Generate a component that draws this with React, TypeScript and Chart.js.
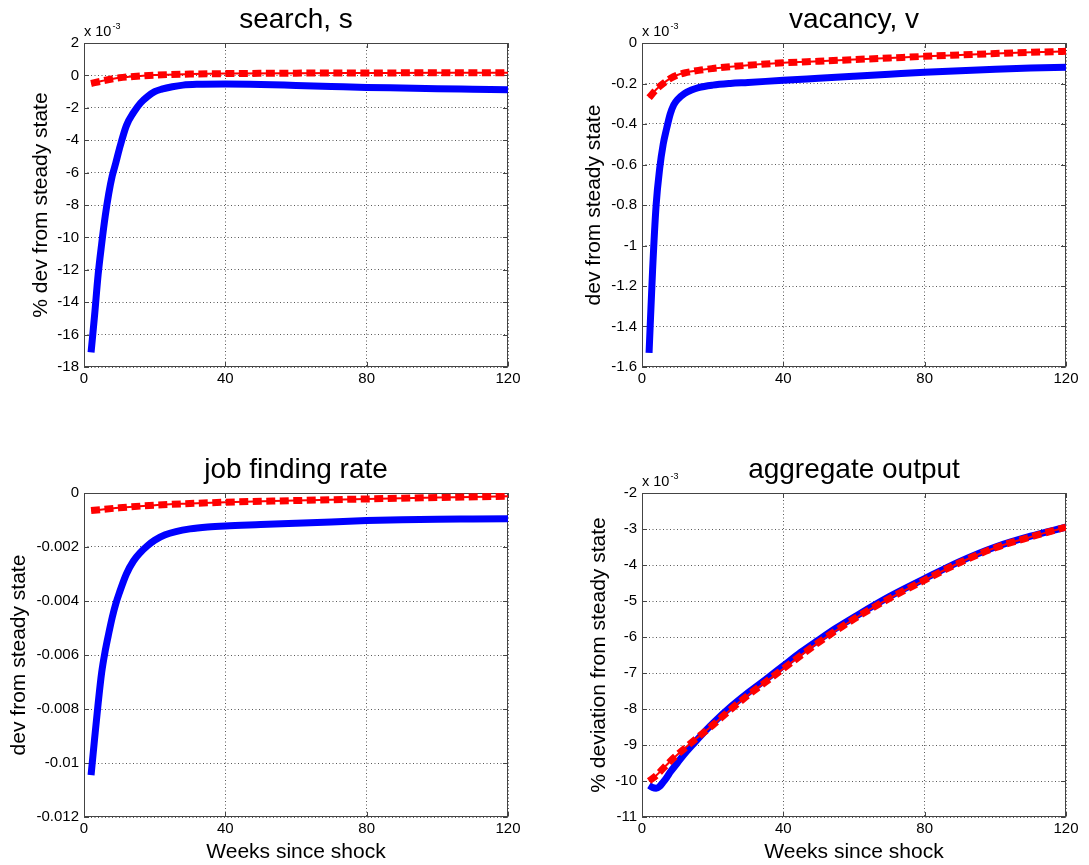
import React, { useEffect, useRef } from 'react';
import { Chart, registerables } from 'chart.js';

Chart.register(...registerables);

const FONT = '"Liberation Sans", Arial, Helvetica, sans-serif';

// x axis (weeks since shock)
const xTicks = [0, 40, 80, 120];

// search, s  (values in units of 10^-3)
const searchBlueWeeks = [2, 3, 4, 5, 6, 7, 8, 9, 10, 12, 14, 16, 18, 20, 22, 25, 28, 32, 40, 50, 60, 70, 80, 90, 100, 110, 120];
const searchBlue = [-17.1, -14.8, -12.3, -10.4, -8.7, -7.3, -6.2, -5.4, -4.55, -3.1, -2.3, -1.7, -1.3, -1.0, -0.85, -0.7, -0.6, -0.55, -0.53, -0.56, -0.62, -0.68, -0.74, -0.78, -0.82, -0.85, -0.88];
const searchRedWeeks = [2, 5, 10, 15, 20, 30, 40, 60, 80, 100, 120];
const searchRed = [-0.5, -0.35, -0.15, -0.05, 0.02, 0.08, 0.11, 0.14, 0.15, 0.16, 0.16];
const searchTicks = [-18, -16, -14, -12, -10, -8, -6, -4, -2, 0, 2];
const searchTickLabels = ['-18', '-16', '-14', '-12', '-10', '-8', '-6', '-4', '-2', '0', '2'];

// vacancy, v  (values in units of 10^-3)
const vacancyBlueWeeks = [2, 3, 4, 5, 6, 7, 8, 9, 10, 12, 14, 16, 20, 25, 30, 40, 50, 60, 70, 80, 90, 100, 110, 120];
const vacancyBlue = [-1.53, -1.12, -0.8, -0.62, -0.5, -0.42, -0.35, -0.305, -0.28, -0.25, -0.232, -0.22, -0.208, -0.2, -0.195, -0.184, -0.174, -0.164, -0.154, -0.144, -0.137, -0.13, -0.124, -0.12];
const vacancyRedWeeks = [2, 4, 6, 8, 10, 12, 16, 20, 25, 30, 40, 50, 60, 70, 80, 90, 100, 110, 120];
const vacancyRed = [-0.27, -0.23, -0.2, -0.175, -0.158, -0.148, -0.135, -0.126, -0.117, -0.11, -0.098, -0.09, -0.082, -0.074, -0.066, -0.059, -0.052, -0.046, -0.041];
const vacancyTicks = [-1.6, -1.4, -1.2, -1, -0.8, -0.6, -0.4, -0.2, 0];
const vacancyTickLabels = ['-1.6', '-1.4', '-1.2', '-1', '-0.8', '-0.6', '-0.4', '-0.2', '0'];

// job finding rate
const jobBlueWeeks = [2, 3, 4, 5, 6, 7, 8, 9, 10, 12, 14, 16, 18, 20, 23, 26, 30, 35, 40, 50, 60, 70, 80, 90, 100, 110, 120];
const jobBlue = [-0.01045, -0.0091, -0.0078, -0.00665, -0.00585, -0.0052, -0.0046, -0.0041, -0.0037, -0.003, -0.00252, -0.0022, -0.00195, -0.00175, -0.00155, -0.00143, -0.00133, -0.00126, -0.00122, -0.00117, -0.00112, -0.00107, -0.00102, -0.00099, -0.00097, -0.00096, -0.00095];
const jobRedWeeks = [2, 10, 20, 30, 40, 60, 80, 100, 120];
const jobRed = [-0.00065, -0.00055, -0.00045, -0.00039, -0.00034, -0.00028, -0.00022, -0.00017, -0.00012];
const jobTicks = [-0.012, -0.01, -0.008, -0.006, -0.004, -0.002, 0];
const jobTickLabels = ['-0.012', '-0.01', '-0.008', '-0.006', '-0.004', '-0.002', '0'];

// aggregate output  (values in units of 10^-3)
const outputBlueWeeks = [2, 3, 4, 5, 6, 7, 8, 10, 12, 15, 18, 20, 25, 30, 35, 40, 45, 50, 55, 60, 70, 80, 90, 100, 110, 120];
const outputBlue = [-10.12, -10.18, -10.2, -10.15, -10.03, -9.9, -9.75, -9.5, -9.25, -8.92, -8.6, -8.4, -7.95, -7.55, -7.18, -6.8, -6.42, -6.08, -5.75, -5.45, -4.88, -4.38, -3.9, -3.5, -3.2, -2.95];
const outputRedWeeks = [2, 4, 6, 8, 10, 12, 15, 20, 25, 30, 35, 40, 50, 60, 70, 80, 90, 100, 110, 120];
const outputRed = [-10.0, -9.85, -9.65, -9.45, -9.27, -9.1, -8.85, -8.45, -8.02, -7.62, -7.25, -6.88, -6.15, -5.5, -4.93, -4.42, -3.93, -3.52, -3.22, -2.95];
const outputTicks = [-11, -10, -9, -8, -7, -6, -5, -4, -3, -2];
const outputTickLabels = ['-11', '-10', '-9', '-8', '-7', '-6', '-5', '-4', '-3', '-2'];

type Panel = {
  title: string;
  ylabel: string;
  xlabel: string;
  exponent: boolean;
  blueX: number[];
  blueY: number[];
  redX: number[];
  redY: number[];
  ticks: number[];
  tickLabels: string[];
  pos: { left: number; top: number; width: number; height: number };
  area: { left: number; top: number; right: number; bottom: number };
  ylabelOffset: number;
};

const panels: Panel[] = [
  {
    title: 'search, s', ylabel: '% dev from steady state', xlabel: '', exponent: true,
    blueX: searchBlueWeeks, blueY: searchBlue, redX: searchRedWeeks, redY: searchRed,
    ticks: searchTicks, tickLabels: searchTickLabels,
    pos: { left: 0, top: 0, width: 545, height: 430 },
    area: { left: 84, top: 43, right: 508, bottom: 367 }, ylabelOffset: 37.5,
  },
  {
    title: 'vacancy, v', ylabel: 'dev from steady state', xlabel: '', exponent: true,
    blueX: vacancyBlueWeeks, blueY: vacancyBlue, redX: vacancyRedWeeks, redY: vacancyRed,
    ticks: vacancyTicks, tickLabels: vacancyTickLabels,
    pos: { left: 545, top: 0, width: 544, height: 430 },
    area: { left: 97, top: 43, right: 521, bottom: 367 }, ylabelOffset: 42,
  },
  {
    title: 'job finding rate', ylabel: 'dev from steady state', xlabel: 'Weeks since shock', exponent: false,
    blueX: jobBlueWeeks, blueY: jobBlue, redX: jobRedWeeks, redY: jobRed,
    ticks: jobTicks, tickLabels: jobTickLabels,
    pos: { left: 0, top: 430, width: 545, height: 435 },
    area: { left: 84, top: 63, right: 508, bottom: 387 }, ylabelOffset: 59,
  },
  {
    title: 'aggregate output', ylabel: '% deviation from steady state', xlabel: 'Weeks since shock', exponent: true,
    blueX: outputBlueWeeks, blueY: outputBlue, redX: outputRedWeeks, redY: outputRed,
    ticks: outputTicks, tickLabels: outputTickLabels,
    pos: { left: 545, top: 430, width: 544, height: 435 },
    area: { left: 97, top: 63, right: 521, bottom: 387 }, ylabelOffset: 37,
  },
];

const zip = (xs: number[], ys: number[]) => xs.map((x, i) => ({ x, y: ys[i] }));

function PanelChart({ p }: { p: Panel }) {
  const ref = useRef<HTMLCanvasElement>(null);
  useEffect(() => {
    const canvas = ref.current;
    if (!canvas) return;
    const frameColor = '#444444';

    const matlabPlugin = {
      id: 'matlabFrame',
      beforeDatasetsDraw(chart: any) {
        const { ctx, chartArea: a, scales } = chart;
        ctx.save();
        ctx.strokeStyle = frameColor;
        ctx.lineWidth = 1;
        ctx.setLineDash([]);
        const L = Math.round(a.left) + 0.5, R = Math.round(a.right) - 0.5;
        const T = Math.round(a.top) + 0.5, B = Math.round(a.bottom) - 0.5;
        ctx.strokeRect(L, T, R - L, B - T);
        const tl = 4.5;
        ctx.beginPath();
        for (const v of p.ticks) {
          const y = Math.round(scales.y.getPixelForValue(v)) + 0.5;
          ctx.moveTo(L, y); ctx.lineTo(L + tl, y);
          ctx.moveTo(R, y); ctx.lineTo(R - tl, y);
        }
        for (const v of xTicks) {
          const x = Math.round(scales.x.getPixelForValue(v)) + 0.5;
          ctx.moveTo(x, B); ctx.lineTo(x, B - tl);
          ctx.moveTo(x, T); ctx.lineTo(x, T + tl);
        }
        ctx.stroke();
        ctx.restore();
      },
      afterDraw(chart: any) {
        const { ctx, chartArea: a } = chart;
        const cx = (a.left + a.right) / 2;
        ctx.save();
        ctx.fillStyle = '#000';
        ctx.textBaseline = 'alphabetic';
        // title
        ctx.font = `28px ${FONT}`;
        ctx.textAlign = 'center';
        ctx.fillText(p.title, cx, a.top - 15);
        // x label
        if (p.xlabel) {
          ctx.font = `21px ${FONT}`;
          ctx.fillText(p.xlabel, cx, a.bottom + 41);
        }
        // y label
        ctx.save();
        ctx.translate(a.left - p.ylabelOffset, (a.top + a.bottom) / 2);
        ctx.rotate(-Math.PI / 2);
        ctx.font = `21px ${FONT}`;
        ctx.textAlign = 'center';
        ctx.fillText(p.ylabel, 0, 0);
        ctx.restore();
        // exponent
        if (p.exponent) {
          ctx.textAlign = 'left';
          ctx.font = `14.5px ${FONT}`;
          const base = 'x 10';
          ctx.fillText(base, a.left, a.top - 7.5);
          const w = ctx.measureText(base).width;
          ctx.font = `9px ${FONT}`;
          ctx.fillText('-3', a.left + w + 1, a.top - 14.5);
        }
        ctx.restore();
      },
    };

    const chart = new Chart(canvas, {
      type: 'line',
      data: {
        datasets: [
          {
            data: zip(p.blueX, p.blueY),
            borderColor: '#0000ff',
            borderWidth: 7,
            pointRadius: 0,
            cubicInterpolationMode: 'monotone',
            fill: false,
            order: 3,
          },
          {
            data: zip(p.redX, p.redY),
            borderColor: '#ff0000',
            borderWidth: 2,
            pointRadius: 0,
            cubicInterpolationMode: 'monotone',
            fill: false,
            order: 2,
          },
          {
            data: zip(p.redX, p.redY),
            borderColor: '#ff0000',
            borderWidth: 7,
            borderDash: [9, 4.5],
            borderCapStyle: 'butt',
            pointRadius: 0,
            cubicInterpolationMode: 'monotone',
            fill: false,
            order: 1,
          },
        ],
      },
      options: {
        animation: false,
        responsive: false,
        devicePixelRatio: 1,
        layout: {
          padding: {
            left: 0,
            top: p.area.top,
            right: p.pos.width - p.area.right,
            bottom: 0,
          },
        },
        plugins: {
          legend: { display: false },
          title: { display: false },
          tooltip: { enabled: false },
        },
        scales: {
          x: {
            type: 'linear',
            min: 0,
            max: 120,
            afterFit: (s: any) => { s.height = p.pos.height - p.area.bottom; },
            afterBuildTicks: (s: any) => { s.ticks = xTicks.map((v) => ({ value: v })); },
            ticks: {
              color: '#000',
              font: { family: FONT, size: 15 },
              padding: 3,
              maxRotation: 0,
              autoSkip: false,
              callback: (v: any) => String(v),
            },
            grid: { color: 'rgba(60,60,60,0.85)', lineWidth: 1, drawTicks: false },
            border: { display: false, dash: [1, 2.5] },
          },
          y: {
            type: 'linear',
            min: p.ticks[0],
            max: p.ticks[p.ticks.length - 1],
            afterFit: (s: any) => { s.width = p.area.left; },
            afterBuildTicks: (s: any) => { s.ticks = p.ticks.map((v) => ({ value: v })); },
            ticks: {
              color: '#000',
              font: { family: FONT, size: 15 },
              padding: 5,
              autoSkip: false,
              callback: (v: any) => {
                const i = p.ticks.findIndex((t) => Math.abs(t - v) < 1e-9);
                return i >= 0 ? p.tickLabels[i] : '';
              },
            },
            grid: { color: 'rgba(60,60,60,0.85)', lineWidth: 1, drawTicks: false },
            border: { display: false, dash: [1, 2.5] },
          },
        },
      } as any,
      plugins: [matlabPlugin],
    });
    return () => chart.destroy();
  }, [p]);

  return (
    <canvas
      ref={ref}
      width={p.pos.width}
      height={p.pos.height}
      style={{
        position: 'absolute',
        left: p.pos.left,
        top: p.pos.top,
        width: p.pos.width,
        height: p.pos.height,
      }}
    />
  );
}

export default function App() {
  return (
    <div
      style={{
        position: 'fixed',
        left: 0,
        top: 0,
        width: 1089,
        height: 865,
        background: '#ffffff',
        overflow: 'hidden',
      }}
    >
      {panels.map((p, i) => (
        <PanelChart key={i} p={p} />
      ))}
    </div>
  );
}
